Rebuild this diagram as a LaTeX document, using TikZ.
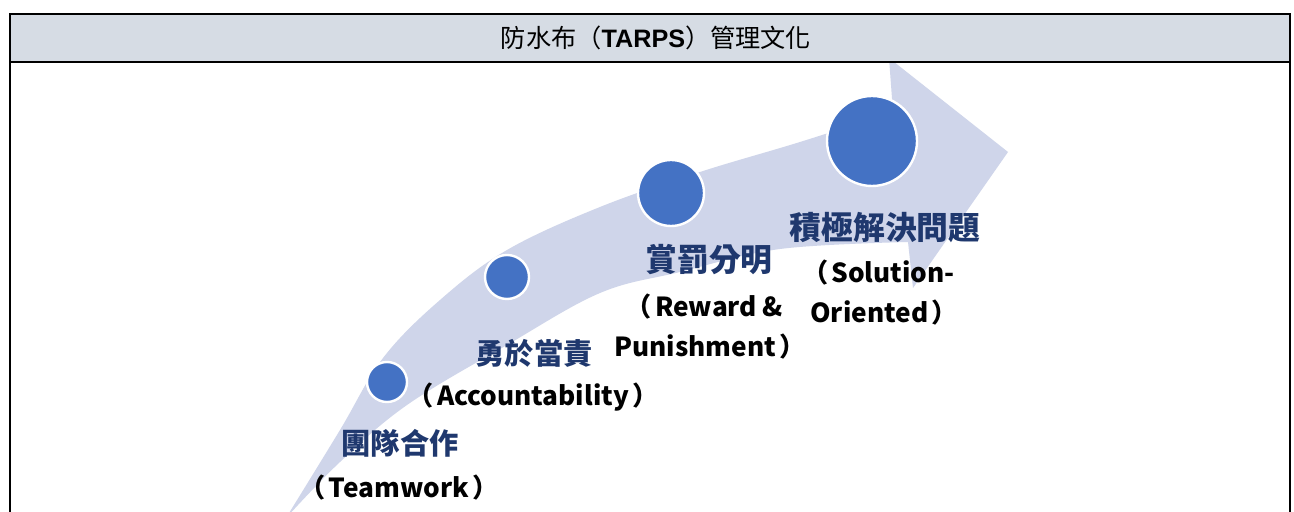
\documentclass[tikz,border=0pt]{standalone}
\usepackage{fontspec}
\setmainfont{Noto Sans CJK TC}
\newfontfamily\arialf{Liberation Sans}
\definecolor{hdr}{HTML}{D6DCE4}
\definecolor{band}{HTML}{CFD5EA}
\definecolor{dot}{HTML}{4472C4}
\definecolor{navy}{RGB}{31,56,110}
\tikzset{
  dotc/.style={circle, fill=dot, draw=white, line width=1.2pt, inner sep=0pt},
  cjklab/.style={font=\fontsize{14.6}{16}\selectfont\bfseries, text=navy, inner sep=0pt},
  cjkbig/.style={font=\fontsize{15.9}{18}\selectfont\bfseries, text=navy, inner sep=0pt},
  enlab/.style={font=\fontsize{13.1}{20}\selectfont\bfseries, text=black, inner sep=0pt, align=center},
  titlelab/.style={font=\fontsize{12.6}{14}\selectfont, text=black, inner sep=0pt}
}
\newcommand{\lpar}{\hspace{-0.42em}（\hspace{0.12em}}
\newcommand{\rpar}{\hspace{0.12em}）\hspace{-0.42em}}
\begin{document}
\begin{tikzpicture}[x=0.5pt,y=-0.5pt]
\useasboundingbox (0,0) rectangle (1294,512);
\fill[white] (0,0) rectangle (1294,512);
\fill[hdr] (10,14) rectangle (1290,62);
\begin{scope}
\clip (10,62) rectangle (1290,512);
\fill[band] plot[smooth, tension=0.6] coordinates {(286,518) (340,430) (383,358) (440,300) (507,250) (600,207) (700,172) (800,142) (893,112)}
  -- (889,58) -- (1008,152) -- (913,288) -- (908,242)
  -- plot[smooth, tension=0.6] coordinates {(908,242) (780,249) (680,272) (600,293) (507,345) (407,405) (340,462) (286,518)} -- cycle;
\end{scope}
\node[dotc, minimum size=20pt] (c1) at (387,382) {};
\node[dotc, minimum size=22pt] (c2) at (507,277) {};
\node[dotc, minimum size=33pt] (c3) at (671,193) {};
\node[dotc, minimum size=45pt] (c4) at (872,141) {};
\draw[line width=1pt] (10,520) -- (10,14) -- (1290,14) -- (1290,520);
\draw[line width=1pt] (10,62) -- (1290,62);
\node[titlelab] (title) at (656,38) {防水布（{\arialf\bfseries TARPS}）管理文化};
\node[cjklab] (t1) at (400,443) {團隊合作};
\node[enlab] (e1) at (399,488) {\lpar Teamwork\rpar};
\node[cjklab] (t2) at (534,353) {勇於當責};
\node[enlab] (e2) at (533,397) {\lpar Accountability\rpar};
\node[cjkbig] (t3) at (709,260) {賞罰分明};
\node[enlab] (e3) at (710,327) {\lpar Reward \&\\Punishment\rpar};
\node[cjkbig] (t4) at (885,228) {積極解決問題};
\node[enlab] (e4) at (884,293) {\lpar Solution-\\Oriented\rpar};
\end{tikzpicture}
\end{document}
